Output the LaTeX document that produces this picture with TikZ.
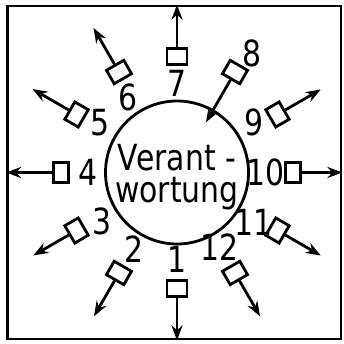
\documentclass[tikz,border=0pt]{standalone}
\usepackage{fontspec}
\setmainfont{DejaVu Sans}[FakeStretch=0.83]
\usetikzlibrary{arrows.meta}

\begin{document}
\begin{tikzpicture}[x=1pt, y=1pt, line width=2.8pt, >={Stealth[length=15pt,width=11pt]},
  every node/.style={font=\fontsize{36pt}{32pt}\selectfont, inner sep=0pt, align=center},
  tile/.style={draw, minimum width=20pt, minimum height=15.5pt}]
\useasboundingbox (-177,-171.5) rectangle (167,172.5);
\node[draw, minimum width=333.5pt, minimum height=333pt] (frame) at (-2.75,0) {};
\node[draw, circle, minimum size=143pt] (core) at (0,0) {};
\node (txt) at (0,-5) {Verant -\\wortung};
% boxes on the rays
\node[tile, rotate=180] (b1) at (270:116) {};
\node[tile, rotate=150] (b2) at (240:116) {};
\node[tile, rotate=120] (b3) at (210:116) {};
\node[tile, rotate=90] (b4) at (180:116) {};
\node[tile, rotate=60] (b5) at (150:116) {};
\node[tile, rotate=30] (b6) at (120:116) {};
\node[tile] (b7) at (90:116) {};
\node[tile, rotate=-30] (b8) at (60:116) {};
\node[tile, rotate=-60] (b9) at (30:116) {};
\node[tile, rotate=-90] (b10) at (0:116) {};
\node[tile, rotate=-120] (b11) at (-30:116) {};
\node[tile, rotate=-150] (b12) at (-60:116) {};
% numbers
\node (l1) at (270:87) {1};
\node (l2) at (241:88) {2};
\node (l3) at (213:89) {3};
\node (l4) at (180:89) {4};
\node (l5) at (147:92) {5};
\node (l6) at (123:90) {6};
\node (l7) at (90:89.5) {7};
\node (l8) at (58:141) {8};
\node (l9) at (33:92) {9};
\node (l10) at (0:89) {10};
\node (l11) at (-33:91) {11};
\node (l12) at (-60:86) {12};
% arrow ends
\coordinate (t1) at (b1 |- frame.south);
\coordinate (t2) at (240:166);
\coordinate (t3) at (210:166);
\coordinate (t4) at (b4 -| frame.west);
\coordinate (t5) at (150:167);
\coordinate (t6) at (120:167);
\coordinate (t7) at (b7 |- frame.north);
\coordinate (t8) at (60:58);
\coordinate (t9) at (30:166);
\coordinate (t10) at (b10 -| frame.east);
\coordinate (t11) at (-30:166);
\coordinate (t12) at (-60:166);
\draw[->] (b1) -- (t1);
\draw[->] (b2) -- (t2);
\draw[->] (b3) -- (t3);
\draw[->] (b4) -- (t4);
\draw[->] (b5) -- (t5);
\draw[->] (b6) -- (t6);
\draw[->] (b7) -- (t7);
\draw[->] (b8) -- (t8);
\draw[->] (b9) -- (t9);
\draw[->] (b10) -- (t10);
\draw[->] (b11) -- (t11);
\draw[->] (b12) -- (t12);
\end{tikzpicture}
\end{document}
